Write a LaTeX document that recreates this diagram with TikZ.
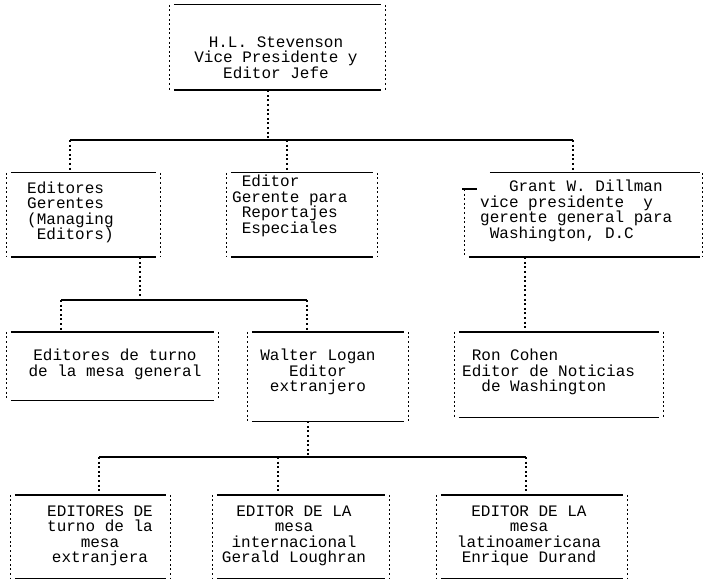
\documentclass[tikz,border=0pt]{standalone}
\usepackage{fontspec}
\setmonofont{Liberation Mono}
\tikzset{
  org frame/.style={rectangle, inner sep=0pt},
  org text/.style={font=\fontsize{16}{15.5}\selectfont\ttfamily, inner sep=0pt},
  org rule/.style={line width=1.4pt},
  org side/.style={line width=1.3pt, dash pattern=on 2pt off 2.6pt},
  org link/.style={line width=1.3pt, dash pattern=on 2pt off 2.6pt},
  org bus/.style={line width=1.4pt},
}
\newcommand{\orgframe}[1]{%
  \draw[org rule] ([xshift=4pt]#1.north west) -- ([xshift=-4pt]#1.north east);
  \draw[org rule] ([xshift=4pt]#1.south west) -- ([xshift=-4pt]#1.south east);
  \draw[org side] (#1.north west) -- (#1.south west);
  \draw[org side] (#1.north east) -- (#1.south east);
}
\begin{document}
\begin{tikzpicture}[x=1pt, y=-1pt]
  \useasboundingbox (0,0) rectangle (709,585);
  % top
  \node[org frame, minimum width=215pt, minimum height=85pt] (top) at (277.5,47.5) {};
  \node[org text, align=center] (topT) at (276,57.5) {H.L. Stevenson\\Vice Presidente y\\Editor Jefe};
  % first row
  \node[org frame, minimum width=153pt, minimum height=84pt] (ger) at (83.5,215) {};
  \node[org text, align=left, anchor=west] (gerT) at (27,212.5) {Editores\\Gerentes\\(Managing\\\hphantom{(}Editors)};
  \node[org frame, minimum width=150pt, minimum height=84pt] (rep) at (302,215) {};
  \node[org text, align=left, anchor=west] (repT) at (232,206) {\hphantom{x}Editor\\Gerente para\\\hphantom{x}Reportajes\\\hphantom{x}Especiales};
  \node[org frame, minimum width=237pt, minimum height=84pt] (dil) at (583.5,215) {};
  \node[org text, align=left, anchor=west] (dilT) at (480,211) {\hphantom{xxx}Grant W. Dillman\\vice presidente\ \ y\\gerente general para\\\hphantom{x}Washington, D.C};
  % second row
  \node[org frame, minimum width=211pt, minimum height=68pt] (tur) at (112.5,366) {};
  \node[org text, align=center] (turT) at (115,364.5) {Editores de turno\\de la mesa general};
  \node[org frame, minimum width=160pt, minimum height=89pt] (log) at (328,376.5) {};
  \node[org text, align=center] (logT) at (318,372) {Walter Logan\\Editor\\extranjero};
  \node[org frame, minimum width=208pt, minimum height=85pt] (coh) at (559,374.5) {};
  \node[org text, align=left, anchor=west] (cohT) at (462,372) {\hphantom{x}Ron Cohen\\Editor de Noticias\\\hphantom{xx}de Washington};
  % third row
  \node[org frame, minimum width=159pt, minimum height=83pt] (ext) at (90.5,536.5) {};
  \node[org text, align=center] (extT) at (100,536) {EDITORES DE\\turno de la\\mesa\\extranjera};
  \node[org frame, minimum width=176pt, minimum height=83pt] (int) at (301,536.5) {};
  \node[org text, align=center] (intT) at (294,536) {EDITOR DE LA\\mesa\\internacional\\Gerald Loughran};
  \node[org frame, minimum width=190pt, minimum height=83pt] (lat) at (532,536.5) {};
  \node[org text, align=center] (latT) at (529,536) {EDITOR DE LA\\mesa\\latinoamericana\\Enrique Durand};

  % box edges
  \orgframe{top}
  \orgframe{ger}
  \orgframe{rep}
  \orgframe{tur}
  \orgframe{log}
  \orgframe{coh}
  \orgframe{ext}
  \orgframe{int}
  \orgframe{lat}
  \coordinate (dilstub) at (462,189);
  \draw[org rule] (dilstub) -- ++(15,0);
  \draw[org rule] ([xshift=25pt]dil.north west) -- ([xshift=-2pt]dil.north east);
  \draw[org rule] ([xshift=4pt]dil.south west) -- ([xshift=-2pt]dil.south east);
  \draw[org side] (dil.west |- dilstub) -- (dil.south west);
  \draw[org side] (dil.north east) -- (dil.south east);

  % connectors
  \coordinate (j0) at (268,140);
  \coordinate (b1w) at (70,140);
  \coordinate (b1m) at (287,140);
  \coordinate (b1e) at (573,140);
  \draw[org link] (top.south -| j0) -- (j0);
  \draw[org bus] (b1w) -- (b1e);
  \draw[org link] (b1w) -- (b1w |- ger.north);
  \draw[org link] (b1m) -- (b1m |- rep.north);
  \draw[org link] (b1e) -- (b1e |- dil.north);

  \coordinate (j1) at (140,300);
  \coordinate (b2w) at (61,300);
  \coordinate (b2e) at (307,300);
  \draw[org link] (ger.south -| j1) -- (j1);
  \draw[org bus] (b2w) -- (b2e);
  \draw[org link] (b2w) -- (b2w |- tur.north);
  \draw[org link] (b2e) -- (b2e |- log.north);

  \coordinate (j2) at (525,295);
  \draw[org link] (dil.south -| j2) -- (coh.north -| j2);

  \coordinate (j3) at (308,457);
  \coordinate (b3w) at (99,457);
  \coordinate (b3m) at (278,457);
  \coordinate (b3e) at (526,457);
  \draw[org link] (log.south -| j3) -- (j3);
  \draw[org bus] (b3w) -- (b3e);
  \draw[org link] (b3w) -- (b3w |- ext.north);
  \draw[org link] (b3m) -- (b3m |- int.north);
  \draw[org link] (b3e) -- (b3e |- lat.north);
\end{tikzpicture}
\end{document}
